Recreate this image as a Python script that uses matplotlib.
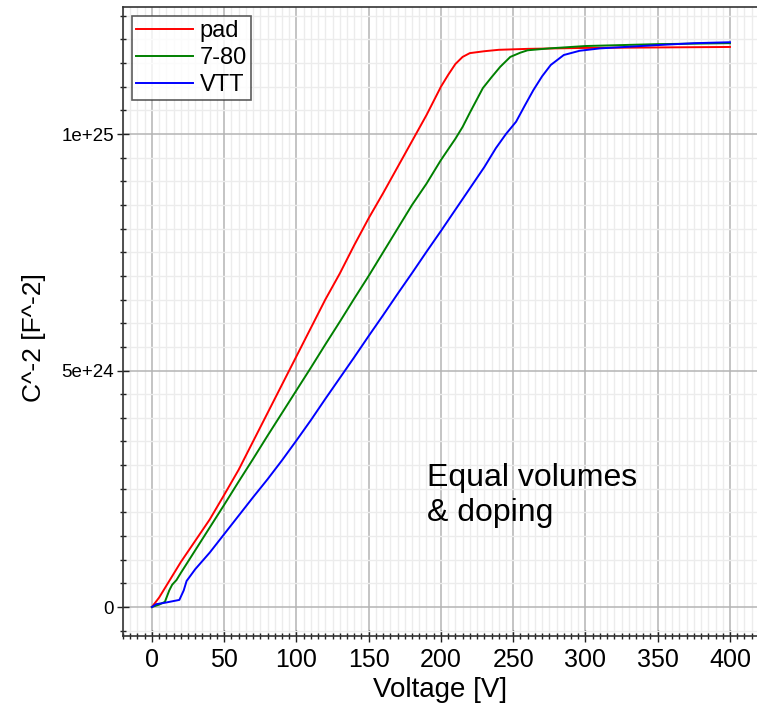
import numpy as np
import matplotlib
matplotlib.use('Agg')
import matplotlib.pyplot as plt
from matplotlib.ticker import MultipleLocator, FixedLocator, FuncFormatter

plt.rcParams['font.family'] = ['Liberation Sans', 'DejaVu Sans']

# C^-2 vs bias voltage, values in units of 1e25 F^-2
pad_v = [0, 5, 10, 20, 30, 40, 50, 60, 70, 80, 90, 100, 110, 120, 130, 140, 150,
         160, 170, 180, 190, 200, 205, 210, 215, 220, 230, 240, 260, 300, 350, 400]
pad_c = [0, 0.02, 0.045, 0.095, 0.14, 0.185, 0.237, 0.29, 0.35, 0.41, 0.47, 0.53,
         0.59, 0.65, 0.705, 0.765, 0.822, 0.875, 0.93, 0.985, 1.04, 1.10, 1.125,
         1.148, 1.163, 1.171, 1.175, 1.178, 1.180, 1.182, 1.183, 1.184]

s780_v = [0, 5, 9, 12, 14, 17, 20, 30, 40, 50, 60, 70, 80, 90, 100, 110, 120, 130,
          140, 150, 160, 170, 180, 190, 200, 210, 215, 220, 229, 235, 241, 248, 255,
          260, 275, 300, 350, 400]
s780_c = [0, 0.005, 0.011, 0.035, 0.047, 0.057, 0.072, 0.12, 0.168, 0.216, 0.265,
          0.313, 0.362, 0.41, 0.458, 0.506, 0.555, 0.603, 0.652, 0.70, 0.75, 0.80,
          0.85, 0.895, 0.945, 0.99, 1.015, 1.045, 1.097, 1.12, 1.142, 1.163, 1.172,
          1.177, 1.181, 1.186, 1.190, 1.192]

vtt_v = [0, 3, 9, 19, 22, 24, 30, 40, 50, 60, 70, 80, 90, 100, 110, 120, 130, 140,
         150, 160, 170, 180, 190, 200, 210, 220, 230, 238, 245, 252, 258, 264, 270,
         276, 285, 296, 310, 350, 375, 400]
vtt_c = [0, 0.006, 0.009, 0.015, 0.035, 0.055, 0.08, 0.115, 0.154, 0.193, 0.232,
         0.27, 0.31, 0.352, 0.395, 0.44, 0.484, 0.528, 0.573, 0.617, 0.662, 0.706,
         0.751, 0.795, 0.84, 0.885, 0.93, 0.97, 1.0, 1.026, 1.06, 1.093, 1.122,
         1.146, 1.167, 1.176, 1.181, 1.188, 1.192, 1.194]

scale = 1e25

fig = plt.figure(figsize=(7.57, 7.04), dpi=100)
ax = fig.add_axes([123 / 757, 68 / 704, 634 / 757, 629 / 704])

ax.plot(pad_v, np.array(pad_c) * scale, color='#ff0000', lw=1.4, label='pad')
ax.plot(s780_v, np.array(s780_c) * scale, color='#008000', lw=1.4, label='7-80')
ax.plot(vtt_v, np.array(vtt_c) * scale, color='#0000ff', lw=1.4, label='VTT')

ax.set_xlim(-20, 418.7)
ax.set_ylim(-0.0613 * scale, 1.2685 * scale)

ax.xaxis.set_major_locator(MultipleLocator(50))
ax.xaxis.set_minor_locator(MultipleLocator(5))
ax.yaxis.set_major_locator(FixedLocator([0, 5e24, 1e25]))
ax.yaxis.set_minor_locator(MultipleLocator(5e23))
ylabels = {0: '0', 5e24: '5e+24', 1e25: '1e+25'}
ax.yaxis.set_major_formatter(FuncFormatter(lambda v, p: ylabels.get(v, '')))

ax.grid(which='major', color='#b4b4b4', lw=1.1)
ax.grid(which='minor', color='#ececec', lw=1.0)
ax.set_axisbelow(True)

ax.tick_params(which='major', direction='inout', length=9, width=1, color='#222222')
ax.tick_params(which='minor', direction='inout', length=5, width=1, color='#222222')
ax.tick_params(axis='x', labelsize=18, pad=4)
ax.tick_params(axis='y', labelsize=13.5, pad=2)
ax.spines['right'].set_visible(False)
for s in ['left', 'bottom', 'top']:
    ax.spines[s].set_color('#333333')
    ax.spines[s].set_linewidth(1.2)

ax.set_xlabel('Voltage [V]', fontsize=20, labelpad=4)
ax.set_ylabel('C^-2 [F^-2]', fontsize=19)
ax.yaxis.set_label_coords(-0.122, 0.474)

leg = ax.legend(loc='upper left', fontsize=17, frameon=True, fancybox=False,
                handlelength=2.4, handletextpad=0.3, borderpad=0.15,
                labelspacing=0.22, borderaxespad=0.4)
leg.get_frame().set_edgecolor('#333333')
leg.get_frame().set_linewidth(1.2)

ax.text(190.5, 0.305 * scale, 'Equal volumes\n& doping', fontsize=23,
        ha='left', va='top', linespacing=1.25)

fig.savefig('out.png', dpi=100)
